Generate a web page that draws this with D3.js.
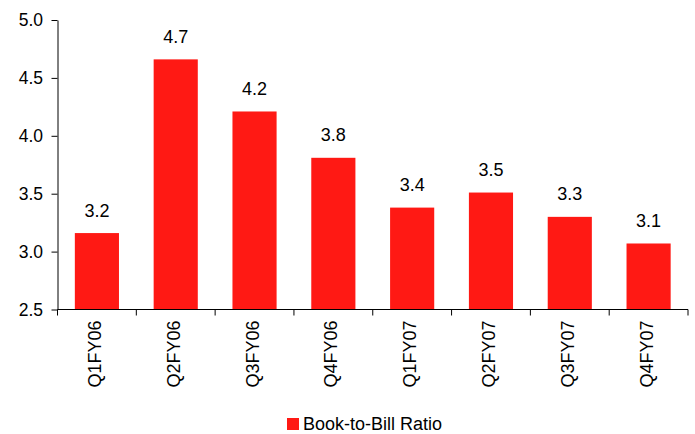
<!DOCTYPE html>
<html>
<head>
<meta charset="utf-8">
<script src="https://cdn.jsdelivr.net/npm/d3@7"></script>
<style>
  html, body { margin: 0; padding: 0; background: #fff; }
  svg { display: block; font-family: "Liberation Sans", Arial, sans-serif; }
  .axis path, .axis line { stroke: #000; stroke-width: 1; }
  .axis text { fill: #000; }
</style>
</head>
<body>
<svg id="chart" width="695" height="434"></svg>
<script>
// Quarterly book-to-bill ratio
const quarters = ["Q1FY06", "Q2FY06", "Q3FY06", "Q4FY06", "Q1FY07", "Q2FY07", "Q3FY07", "Q4FY07"];
const bookToBill = [3.16, 4.66, 4.21, 3.81, 3.38, 3.51, 3.30, 3.07];
const yTicks = [2.5, 3.0, 3.5, 4.0, 4.5, 5.0];
const seriesName = "Book-to-Bill Ratio";

const barColor = "#ff1914";
const svg = d3.select("#chart");
const margin = { left: 57.5, right: 7, top: 20, bottom: 124.5 };
const W = 695, H = 434;

const x = d3.scaleBand()
  .domain(quarters)
  .range([margin.left, W - margin.right])
  .paddingInner(0.44)
  .paddingOuter(0.22);

const y = d3.scaleLinear()
  .domain([2.5, 5.0])
  .range([H - margin.bottom, margin.top]);

// bars
svg.append("g").selectAll("rect")
  .data(quarters)
  .join("rect")
  .attr("x", d => x(d))
  .attr("width", x.bandwidth())
  .attr("y", (d, i) => y(bookToBill[i]))
  .attr("height", (d, i) => y(2.5) - y(bookToBill[i]))
  .attr("fill", barColor);

// value labels
svg.append("g").selectAll("text")
  .data(quarters)
  .join("text")
  .attr("x", d => x(d) + x.bandwidth() / 2)
  .attr("y", (d, i) => y(bookToBill[i]) - 16.5)
  .attr("text-anchor", "middle")
  .attr("font-size", 18)
  .attr("fill", "#000")
  .text((d, i) => d3.format(".1f")(bookToBill[i]));

// y axis
const yAxis = svg.append("g")
  .attr("class", "axis")
  .attr("transform", `translate(${margin.left},0)`)
  .call(d3.axisLeft(y).tickValues(yTicks).tickFormat(d3.format(".1f"))
    .tickSize(6).tickSizeOuter(0).tickPadding(8.5));
yAxis.selectAll("text").attr("font-size", 17.5);

// x axis: ticks sit on category boundaries
const xAxisY = y(2.5);
const xg = svg.append("g").attr("class", "axis");
xg.append("line")
  .attr("x1", margin.left).attr("x2", W - margin.right)
  .attr("y1", xAxisY).attr("y2", xAxisY);
const step = x.step();
const bounds = d3.range(quarters.length + 1).map(i => x(quarters[0]) - x.paddingOuter() * step + i * step);
xg.selectAll("line.tick")
  .data(bounds)
  .join("line")
  .attr("class", "tick")
  .attr("x1", d => d).attr("x2", d => d)
  .attr("y1", xAxisY).attr("y2", xAxisY + 6);
xg.selectAll("text")
  .data(quarters)
  .join("text")
  .attr("transform", d => `translate(${x(d) + x.bandwidth() / 2 + 4},${xAxisY + 11}) rotate(-90)`)
  .attr("text-anchor", "end")
  .attr("font-size", 18)
  .text(d => d);

// legend
const lg = svg.append("g").attr("transform", "translate(287,418)");
lg.append("rect").attr("width", 12).attr("height", 12).attr("fill", barColor);
lg.append("text")
  .attr("x", 16).attr("y", 11.5)
  .attr("font-size", 18)
  .attr("fill", "#000")
  .text(seriesName);
</script>
</body>
</html>
